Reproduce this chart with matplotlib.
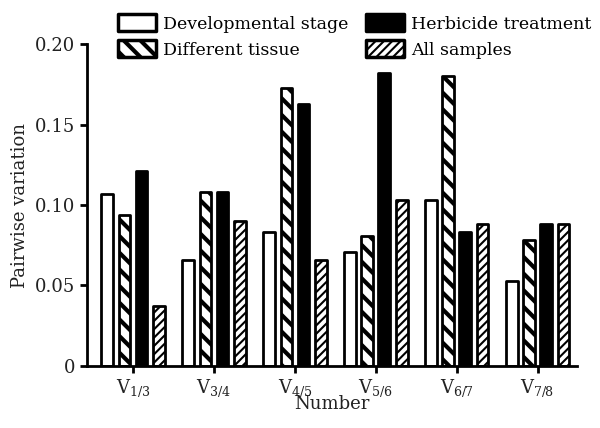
import matplotlib
matplotlib.use("Agg")
import matplotlib.pyplot as plt
import numpy as np

plt.rcParams['font.family'] = ['DejaVu Serif']
plt.rcParams['mathtext.fontset'] = 'dejavuserif'
plt.rcParams['hatch.linewidth'] = 3.0

categories = ["V$_{1/3}$", "V$_{3/4}$", "V$_{4/5}$", "V$_{5/6}$", "V$_{6/7}$", "V$_{7/8}$"]
developmental = [0.107, 0.066, 0.083, 0.071, 0.103, 0.053]
tissue = [0.094, 0.108, 0.173, 0.081, 0.180, 0.078]
herbicide = [0.121, 0.108, 0.163, 0.182, 0.083, 0.088]
all_samples = [0.037, 0.090, 0.066, 0.103, 0.088, 0.088]
series_names = ["Developmental stage", "Different tissue", "Herbicide treatment", "All samples"]

fig = plt.figure(figsize=(6, 4.28), dpi=100)
ax = fig.add_axes([0.145, 0.145, 0.817, 0.752])

x = np.arange(len(categories))
w = 0.145
offsets = [-0.32, -0.105, 0.105, 0.32]
styles = [
    dict(facecolor="white", hatch=None),
    dict(facecolor="white", hatch="\\\\"),
    dict(facecolor="black", hatch=None),
    dict(facecolor="white", hatch="////"),
]
hlw = [None, 3.0, None, 1.5]
data = [developmental, tissue, herbicide, all_samples]
handles = []
for i, (vals, st) in enumerate(zip(data, styles)):
    b = ax.bar(x + offsets[i], vals, width=w, edgecolor="black",
               linewidth=2.0, label=series_names[i], **st)
    for p in b:
        p.set_joinstyle("round")
        if hlw[i] is not None:
            try:
                p.set_hatch_linewidth(hlw[i])
            except Exception:
                pass
    handles.append(b)

ax.set_xlim(-0.57, 5.49)
ax.set_ylim(0, 0.20)
ax.set_yticks([0, 0.05, 0.10, 0.15, 0.20])
ax.set_yticklabels(["0", "0.05", "0.10", "0.15", "0.20"])
ax.set_xticks(x)
ax.set_xticklabels(categories)
for s in ["top", "right"]:
    ax.spines[s].set_visible(False)
for s in ["left", "bottom"]:
    ax.spines[s].set_linewidth(2.0)
ax.tick_params(axis="both", direction="out", length=5, width=2, labelsize=13, colors="black")
ax.tick_params(axis="both", labelcolor="#222222")
ax.set_ylabel("Pairwise variation", fontsize=13, color="#222222")
ax.set_xlabel("Number", fontsize=13, color="#222222", labelpad=-3)

leg = fig.legend(handles, series_names, ncol=2, loc="upper left",
                 bbox_to_anchor=(0.176, 0.995), frameon=False, fontsize=12.5,
                 handlelength=2.2, handleheight=1.1, columnspacing=1.0,
                 handletextpad=0.4, labelspacing=0.45, borderaxespad=0.3)
for h, lw in zip(leg.legend_handles, hlw):
    h.set_joinstyle("round")
    h.set_linewidth(2.5)
    if lw is not None:
        try:
            h.set_hatch_linewidth(lw)
        except Exception:
            pass

fig.savefig("out.png", dpi=100)
